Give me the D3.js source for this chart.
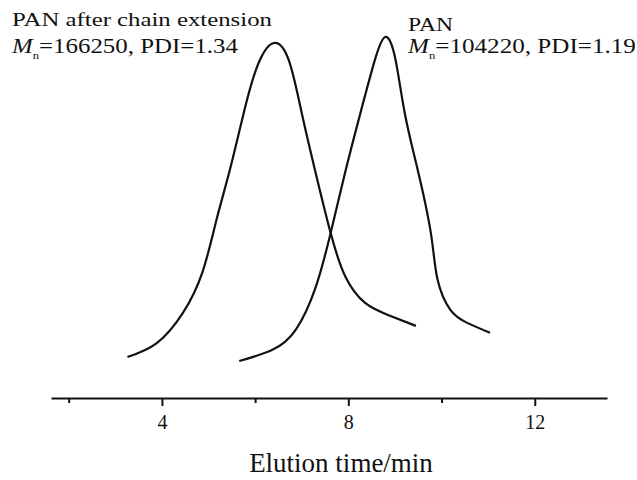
<!DOCTYPE html>
<html>
<head>
<meta charset="utf-8">
<script src="https://cdn.jsdelivr.net/npm/d3@7"></script>
<style>
    body { margin: 0; background: #fff; }
</style>
</head>
<body>
<svg id="chart" width="637" height="480"></svg>
<script>
// GPC traces (elution time in min, normalised signal)
var extTime = [3.26, 3.89, 4.45, 4.87, 5.17, 5.48, 5.81, 6.09, 6.40, 6.72, 7.00, 7.30, 7.62, 7.94, 8.36, 8.85, 9.45];
var extSignal = [0.054, 0.096, 0.187, 0.310, 0.467, 0.630, 0.820, 0.945, 1.000, 0.949, 0.789, 0.608, 0.428, 0.295, 0.217, 0.181, 0.148];

var panTime = [5.66, 6.36, 6.87, 7.30, 7.62, 7.94, 8.28, 8.57, 8.79, 9.00, 9.21, 9.49, 9.77, 9.91, 10.19, 10.55, 11.04];
var panSignal = [0.042, 0.075, 0.136, 0.265, 0.428, 0.615, 0.800, 0.949, 1.018, 0.958, 0.789, 0.617, 0.428, 0.290, 0.196, 0.157, 0.127];

var tickValues = [2, 4, 6, 8, 10, 12];
var labeledTicks = [4, 8, 12];

var serif = "'Liberation Serif', 'Times New Roman', Times, serif";

var svg = d3.select("#chart");

var xScale = d3.scaleLinear()
    .domain([1.62, 13.55])
    .range([51, 607]);

var yScale = d3.scaleLinear()
    .domain([0, 1])
    .range([375, 43]);

// x axis, no y axis in the original
var xAxis = d3.axisBottom(xScale)
    .tickValues(tickValues)
    .tickSize(8)
    .tickSizeOuter(0)
    .tickPadding(9)
    .tickFormat(function (d) { return labeledTicks.indexOf(d) >= 0 ? d : ""; });

var gx = svg.append("g")
    .attr("transform", "translate(0,398)")
    .call(xAxis);

gx.attr("font-family", serif);
gx.select(".domain").attr("stroke", "#111").attr("stroke-width", 2);
gx.selectAll(".tick line")
    .attr("stroke", "#111")
    .attr("stroke-width", 2)
    .attr("y2", function (d) { return labeledTicks.indexOf(d) >= 0 ? 8 : 5; });
gx.selectAll(".tick text")
    .attr("font-size", 20)
    .attr("fill", "#111");

svg.append("text")
    .attr("x", 341)
    .attr("y", 472)
    .attr("text-anchor", "middle")
    .attr("font-family", serif)
    .attr("font-size", 27)
    .attr("fill", "#111")
    .text("Elution time/min");

// the two traces
var line = d3.line()
    .x(function (d) { return xScale(d[0]); })
    .y(function (d) { return yScale(d[1]); })
    .curve(d3.curveNatural);

var series = [d3.zip(extTime, extSignal), d3.zip(panTime, panSignal)];

svg.selectAll("path.trace")
    .data(series)
    .enter()
    .append("path")
    .attr("class", "trace")
    .attr("d", line)
    .attr("fill", "none")
    .attr("stroke", "#111")
    .attr("stroke-width", 2.2);

// labels; squeezed / stretched to the width seen in the picture
function fitText(x, y, width, size, build) {
    var g = svg.append("g").attr("transform", "translate(" + x + "," + y + ")");
    var t = g.append("text")
        .attr("font-family", serif)
        .attr("font-size", size)
        .attr("fill", "#111");
    build(t);
    var w = t.node().getComputedTextLength();
    t.attr("transform", "scale(" + (width / w) + ",1)");
}

function mnLine(value, pdi) {
    return function (t) {
        t.append("tspan").attr("font-style", "italic").text("M");
        t.append("tspan").attr("font-size", 11).attr("dy", 6).text("n");
        t.append("tspan").attr("dy", -6).text("=" + value + ", PDI=" + pdi);
    };
}

fitText(12, 26, 260, 18, function (t) { t.text("PAN after chain extension"); });
fitText(12, 53, 226, 22, mnLine("166250", "1.34"));
fitText(408, 31, 45, 18, function (t) { t.text("PAN"); });
fitText(408, 53, 228, 22, mnLine("104220", "1.19"));
</script>
</body>
</html>
